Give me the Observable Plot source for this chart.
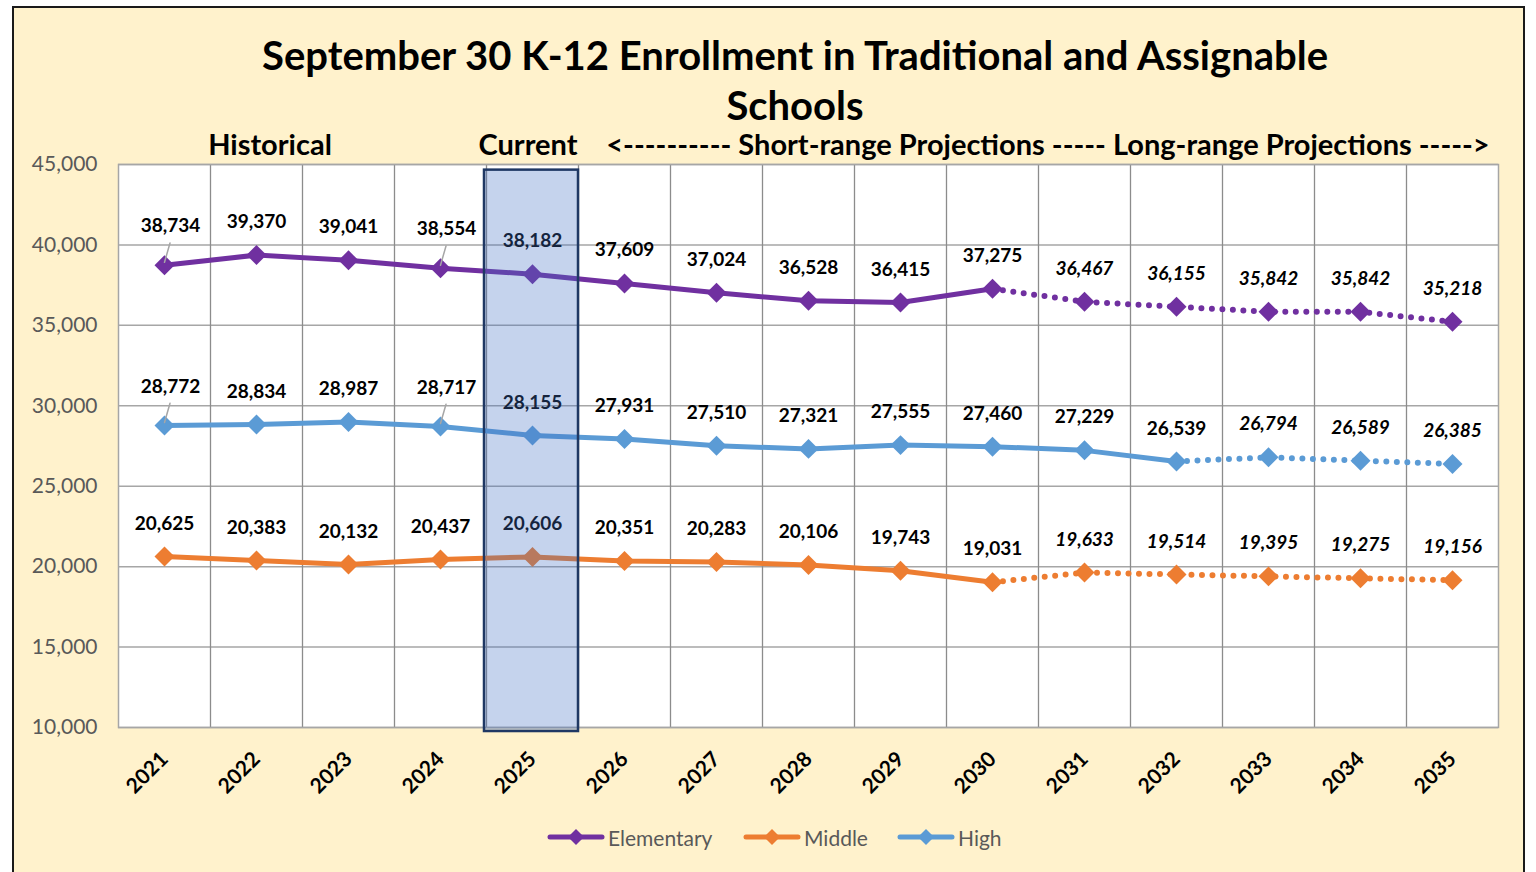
<!DOCTYPE html>
<html>
<head>
<meta charset="utf-8">
<script src="https://cdn.jsdelivr.net/npm/d3@7"></script>
<script src="https://cdn.jsdelivr.net/npm/@observablehq/plot@0.6"></script>
<style>
  html, body { margin:0; padding:0; }
  body { width:1536px; height:872px; overflow:hidden; position:relative; background:#ffffff; font-family: Lato, "Open Sans", sans-serif; }
  #frame { position:absolute; left:12px; top:6px; width:1513px; height:900px; border:2px solid #1a1a1a; background:#FFF2CC; box-sizing:border-box; }
  #title { position:absolute; left:0; top:30px; width:1590px; text-align:center; font-weight:bold; font-size:40px; line-height:50px; color:#000; z-index:2; }
  .hdr { position:absolute; top:130px; font-weight:bold; font-size:29px; line-height:28px; color:#000; white-space:pre; z-index:2; transform:translateX(-50%); }
  #chart { position:absolute; left:0; top:150px; z-index:1; }
  #legend { position:absolute; top:822px; left:0; width:1536px; height:30px; z-index:2; }
  .lg { position:absolute; top:0; display:flex; align-items:center; font-size:21px; color:#595959; }
  .lg svg { margin-right:3px; }
</style>
</head>
<body>
<div id="frame"></div>
<div id="title">September 30 K-12 Enrollment in Traditional and Assignable<br>Schools</div>
<div id="headers"></div>
<div id="chart"></div>
<div id="legend"></div>
<script>
// ---- data ----
const years = [2021, 2022, 2023, 2024, 2025, 2026, 2027, 2028, 2029, 2030, 2031, 2032, 2033, 2034, 2035];
const elementary = [38734, 39370, 39041, 38554, 38182, 37609, 37024, 36528, 36415, 37275, 36467, 36155, 35842, 35842, 35218];
const middle     = [20625, 20383, 20132, 20437, 20606, 20351, 20283, 20106, 19743, 19031, 19633, 19514, 19395, 19275, 19156];
const high       = [28772, 28834, 28987, 28717, 28155, 27931, 27510, 27321, 27555, 27460, 27229, 26539, 26794, 26589, 26385];
const seriesNames = ["Elementary", "Middle", "High"];
const seriesColors = ["#7030A0", "#ED7D31", "#5B9BD5"];
const solidEndYear = [2030, 2030, 2032];      // solid line up to this year, dotted after
const leaderSeries = ["Elementary", "High"];
const leaderYears = [2021, 2024];
const currentYear = 2025;
const yTicks = [10000, 15000, 20000, 25000, 30000, 35000, 40000, 45000];
const headerTexts = ["Historical", "Current", "<---------- Short-range Projections ----- Long-range Projections ----->"];

// ---- build rows ----
const seriesValues = [elementary, middle, high];
const rows = [];
seriesNames.forEach((s, i) => {
  years.forEach((yr, j) => rows.push({series: s, year: yr, value: seriesValues[i][j], end: solidEndYear[i]}));
});
const solid = rows.filter(d => d.year <= d.end);
const dotted = rows.filter(d => d.year >= d.end);
const isLeader = d => leaderSeries.includes(d.series) && leaderYears.includes(d.year);
const uprightNormal = rows.filter(d => d.year <= d.end && !isLeader(d));
const uprightLeader = rows.filter(d => isLeader(d));
const italic = rows.filter(d => d.year > d.end);
const boundaries = years.slice(0, -1).map(y => y + 0.5);
const fmt = d3.format(",");

const marks = [
  Plot.frame({fill: "white", stroke: "none"}),
  Plot.gridY(yTicks, {stroke: "#A6A6A6", strokeOpacity: 1, strokeWidth: 1.5}),
  Plot.ruleX(boundaries, {stroke: "#8C8C8C", strokeWidth: 1.3}),
  Plot.frame({stroke: "#A6A6A6", strokeWidth: 1.5}),
  Plot.axisY(yTicks, {tickFormat: fmt, tickSize: 0, tickPadding: 21, fontSize: 21, fill: "#595959", label: null}),
  Plot.axisX(years, {tickFormat: d => String(d), tickRotate: -45, tickSize: 0, tickPadding: 28, fontSize: 21, fontWeight: "bold", fill: "#000", label: null}),
  Plot.line(solid, {x: "year", y: "value", z: "series", stroke: "series", strokeWidth: 5, strokeLinejoin: "round"}),
  Plot.line(dotted, {x: "year", y: "value", z: "series", stroke: "series", strokeWidth: 6, strokeDasharray: "0,10.5", strokeLinecap: "round"}),
  Plot.dot(rows, {x: "year", y: "value", fill: "series", symbol: "diamond2", r: 9, stroke: "none"})
];
try {
  marks.push(Plot.vector(uprightLeader, {x: "year", y: "value", length: 20, rotate: 16, anchor: "start", dy: -3,
    stroke: "#A6A6A6", strokeWidth: 1.5,
    shape: {draw(context, l) { context.moveTo(0, 0); context.lineTo(0, -l); }}}));
} catch (e) {}
marks.push(
  Plot.text(uprightNormal, {x: "year", y: "value", text: d => fmt(d.value), dy: -33, fontSize: 19, fontWeight: "bold", fill: "#000"}),
  Plot.text(uprightLeader, {x: "year", y: "value", text: d => fmt(d.value), dy: -39, dx: 6, fontSize: 19, fontWeight: "bold", fill: "#000"}),
  Plot.text(italic, {x: "year", y: "value", text: d => fmt(d.value), dy: -33, fontSize: 19, fontWeight: "bold", fontStyle: "italic", fill: "#000"}),
  Plot.rect([currentYear], {x1: d => d - 0.5, x2: d => d + 0.5, y1: 9750, y2: 44650, insetLeft: -2,
    fill: "#4472C4", fillOpacity: 0.31, stroke: "#1F3864", strokeWidth: 2.5})
);

const chart = Plot.plot({
  width: 1536, height: 657,
  marginLeft: 118, marginRight: 38, marginTop: 14, marginBottom: 80,
  style: {background: "transparent", fontFamily: "Lato, 'Open Sans', sans-serif", overflow: "visible"},
  x: {type: "linear", domain: [2020.5, 2035.5]},
  y: {domain: [10000, 45000]},
  color: {domain: seriesNames, range: seriesColors},
  marks
});
document.getElementById("chart").appendChild(chart);

// headers positioned over the plot columns
const hdrCenters = [270, 528, 1048];
const hdrDiv = document.getElementById("headers");
headerTexts.forEach((t, i) => {
  const el = document.createElement("div");
  el.className = "hdr";
  el.textContent = t;
  el.style.left = hdrCenters[i] + "px";
  hdrDiv.appendChild(el);
});

// legend
const legendX = [547, 743, 897];
const lg = document.getElementById("legend");
seriesNames.forEach((s, i) => {
  const item = document.createElement("div");
  item.className = "lg";
  item.style.left = legendX[i] + "px";
  const c = seriesColors[i];
  item.innerHTML = `<svg width="58" height="30"><line x1="3" y1="15" x2="55" y2="15" stroke="${c}" stroke-width="5" stroke-linecap="round"/><path d="M29,7 L37,15 L29,23 L21,15 Z" fill="${c}"/></svg><span>${s}</span>`;
  lg.appendChild(item);
});
</script>
</body>
</html>
